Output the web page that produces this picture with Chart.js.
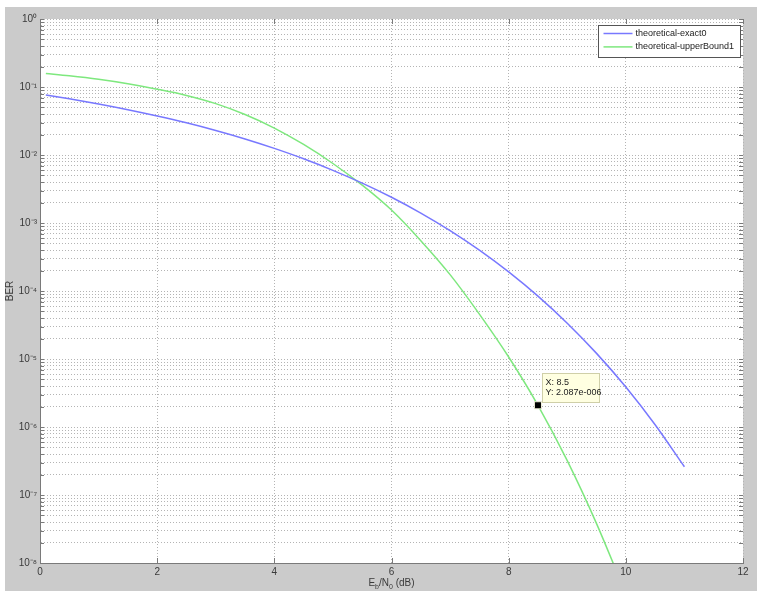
<!DOCTYPE html>
<html>
<head>
<meta charset="utf-8">
<script src="https://cdn.jsdelivr.net/npm/chart.js@4.4.0/dist/chart.umd.min.js"></script>
<style>
  html, body { margin: 0; padding: 0; background: #fff; }
  #wrap { position: absolute; left: 0; top: 0; width: 757px; height: 591px; }
</style>
</head>
<body>
<div id="wrap"><canvas id="chart" width="757" height="591"></canvas></div>
<script>
// values (BER vs Eb/N0, semilogy)
const ebnoExact = [0.1, 0.5, 1, 1.5, 2, 2.5, 3, 3.5, 4, 4.5, 5, 5.5, 6, 6.5, 7, 7.5, 8, 8.5, 9, 9.5, 10, 10.5, 11];
const berExact = [0.0765, 0.0671, 0.0563, 0.0464, 0.0375, 0.0297, 0.0229, 0.0172, 0.0125, 0.0088, 0.00595,
  0.00386, 0.00239, 0.0014, 0.000773, 0.000399, 0.000191, 0.0000841, 0.0000336, 0.0000121, 0.00000387,
  0.00000108, 0.00000026];

const ebnoBound = [0.1, 0.5, 1, 1.5, 2, 2.5, 3, 3.5, 4, 4.5, 5, 5.5, 6, 6.5, 7, 7.5, 8, 8.5, 9, 9.5, 10];
const berBound = [0.158, 0.146, 0.1296, 0.1115, 0.0928, 0.0752, 0.057, 0.0394, 0.0249, 0.0143, 0.0075,
  0.0036, 0.00155, 0.00055, 0.000174, 0.0000457, 0.0000107, 0.000002087, 0.00000032, 0.000000038,
  0.0000000035];

const seriesLabels = ["theoretical-exact0", "theoretical-upperBound1"];
const cursorPoint = { x: 8.5, y: 2.087e-6 };
const cursorText = ["X: 8.5", "Y: 2.087e-006"];

const xTicks = [0, 2, 4, 6, 8, 10, 12];
const decades = [-8, -7, -6, -5, -4, -3, -2, -1, 0];

const COLORS = {
  exact: "#7878ff",
  bound: "#7ee87e",
  figure: "#cbcbcb",
  grid: "#b4b4b4",
  axis: "#7a7a7a",
  text: "#3a3a3a",
};
const FONT = "'Liberation Sans', Arial, sans-serif";

const SUP = { "-": "\u207B", "0": "\u2070", "1": "\u00B9", "2": "\u00B2", "3": "\u00B3", "4": "\u2074",
  "5": "\u2075", "6": "\u2076", "7": "\u2077", "8": "\u2078", "9": "\u2079" };
const sup = (n) => String(n).split("").map(c => SUP[c]).join("");

function toPoints(xs, ys) {
  return xs.map((x, i) => ({ x: x, y: ys[i] }));
}

const figurePlugin = {
  id: "figure",
  beforeDraw(chart) {
    const { ctx, chartArea: ca } = chart;
    ctx.save();
    ctx.fillStyle = "#fff";
    ctx.fillRect(0, 0, chart.width, chart.height);
    ctx.fillStyle = COLORS.figure;
    ctx.fillRect(5, 7, chart.width - 5, chart.height - 7);
    ctx.fillStyle = "#fff";
    ctx.fillRect(ca.left, ca.top, ca.right - ca.left, ca.bottom - ca.top);
    ctx.restore();
  },
  afterDraw(chart) {
    const { ctx, chartArea: ca } = chart;
    const xs = chart.scales.x, ys = chart.scales.y;
    ctx.save();

    // inward tick marks
    ctx.strokeStyle = COLORS.axis;
    ctx.lineWidth = 1;
    ctx.beginPath();
    ys.ticks.forEach(t => {
      const py = Math.round(ys.getPixelForValue(t.value)) + 0.5;
      ctx.moveTo(ca.left, py); ctx.lineTo(ca.left + 4, py);
      ctx.moveTo(ca.right, py); ctx.lineTo(ca.right - 4, py);
    });
    xTicks.forEach(v => {
      const px = Math.round(xs.getPixelForValue(v)) + 0.5;
      ctx.moveTo(px, ca.bottom); ctx.lineTo(px, ca.bottom - 5);
      ctx.moveTo(px, ca.top); ctx.lineTo(px, ca.top + 5);
    });
    ctx.stroke();

    // legend
    const lw = 142, lh = 32;
    const lx = Math.round(ca.right - 3 - lw) + 0.5, ly = Math.round(ca.top + 6) + 0.5;
    ctx.fillStyle = "#fff";
    ctx.fillRect(lx, ly, lw, lh);
    ctx.strokeStyle = "#555";
    ctx.strokeRect(lx, ly, lw, lh);
    ctx.font = "9px " + FONT;
    ctx.textBaseline = "middle";
    ctx.textAlign = "left";
    chart.data.datasets.slice(0, 2).forEach((ds, i) => {
      const ry = ly + 8 + i * 13.4;
      ctx.strokeStyle = ds.borderColor;
      ctx.lineWidth = 1.5;
      ctx.beginPath();
      ctx.moveTo(lx + 5, ry); ctx.lineTo(lx + 34, ry);
      ctx.stroke();
      ctx.fillStyle = "#222";
      ctx.fillText(ds.label, lx + 37, ry);
    });

    // data cursor tip
    const mx = xs.getPixelForValue(cursorPoint.x), my = ys.getPixelForValue(cursorPoint.y);
    const bx = Math.round(mx + 4) + 0.5, by = Math.round(my - 32) + 0.5;
    ctx.fillStyle = "#ffffe1";
    ctx.fillRect(bx, by, 57, 29);
    ctx.strokeStyle = "#cfcfa8";
    ctx.lineWidth = 1;
    ctx.strokeRect(bx, by, 57, 29);
    ctx.fillStyle = "#222";
    ctx.font = "9px " + FONT;
    ctx.fillText(cursorText[0], bx + 3, by + 9);
    ctx.fillText(cursorText[1], bx + 3, by + 19);

    // axis titles
    ctx.fillStyle = COLORS.text;
    ctx.save();
    ctx.translate(10, (ca.top + ca.bottom) / 2);
    ctx.rotate(-Math.PI / 2);
    ctx.textAlign = "center";
    ctx.font = "10px " + FONT;
    ctx.fillText("BER", 0, 0);
    ctx.restore();

    const parts = [["E", 10, 0], ["b", 7, 3], ["/N", 10, 0], ["0", 7, 3], [" (dB)", 10, 0]];
    let total = 0;
    parts.forEach(p => { ctx.font = p[1] + "px " + FONT; total += ctx.measureText(p[0]).width; });
    let cx = (ca.left + ca.right) / 2 - total / 2;
    ctx.textBaseline = "alphabetic";
    ctx.textAlign = "left";
    parts.forEach(p => {
      ctx.font = p[1] + "px " + FONT;
      ctx.fillText(p[0], cx, 586 + p[2]);
      cx += ctx.measureText(p[0]).width;
    });

    ctx.restore();
  },
};

new Chart(document.getElementById("chart").getContext("2d"), {
  type: "line",
  data: {
    datasets: [
      {
        label: seriesLabels[0],
        data: toPoints(ebnoExact, berExact),
        borderColor: COLORS.exact,
        borderWidth: 1.5,
        pointRadius: 0,
        cubicInterpolationMode: "monotone",
        fill: false,
      },
      {
        label: seriesLabels[1],
        data: toPoints(ebnoBound, berBound),
        borderColor: COLORS.bound,
        borderWidth: 1.5,
        pointRadius: 0,
        cubicInterpolationMode: "monotone",
        fill: false,
      },
      {
        label: "cursor",
        data: [cursorPoint],
        order: -1,
        showLine: false,
        pointStyle: "rect",
        pointRadius: 5,
        pointBackgroundColor: "#000",
        pointBorderColor: "#f0f0d8",
        pointBorderWidth: 1,
        clip: false,
      },
    ],
  },
  options: {
    responsive: false,
    animation: false,
    layout: { padding: { left: 0, right: 14, top: 19, bottom: 0 } },
    plugins: {
      legend: { display: false },
      tooltip: { enabled: false },
    },
    scales: {
      x: {
        type: "linear",
        min: 0,
        max: 12,
        afterBuildTicks: (s) => { s.ticks = xTicks.map(v => ({ value: v })); },
        afterFit: (s) => { s.height = 28; },
        ticks: {
          color: COLORS.text,
          font: { family: FONT, size: 10 },
          padding: 3,
          maxRotation: 0,
        },
        grid: { color: COLORS.grid, lineWidth: 1, drawTicks: false },
        border: { color: COLORS.axis, width: 1, dash: [1, 2] },
      },
      y: {
        type: "logarithmic",
        min: 1e-8,
        max: 1,
        afterBuildTicks: (s) => {
          const t = [];
          decades.forEach(k => {
            for (let m = 1; m <= 9; m++) {
              if (k === 0 && m > 1) break;
              t.push({ value: m * Math.pow(10, k) });
            }
          });
          s.ticks = t;
        },
        afterFit: (s) => { s.width = 40; },
        ticks: {
          autoSkip: false,
          color: COLORS.text,
          font: { family: FONT, size: 10 },
          padding: 3,
          callback: (value) => {
            const e = Math.log10(value);
            const r = Math.round(e);
            return Math.abs(e - r) < 1e-6 ? "10" + sup(r) : "";
          },
        },
        grid: { color: COLORS.grid, lineWidth: 1, drawTicks: false },
        border: { color: COLORS.axis, width: 1, dash: [1, 2] },
      },
    },
  },
  plugins: [figurePlugin],
});
</script>
</body>
</html>
